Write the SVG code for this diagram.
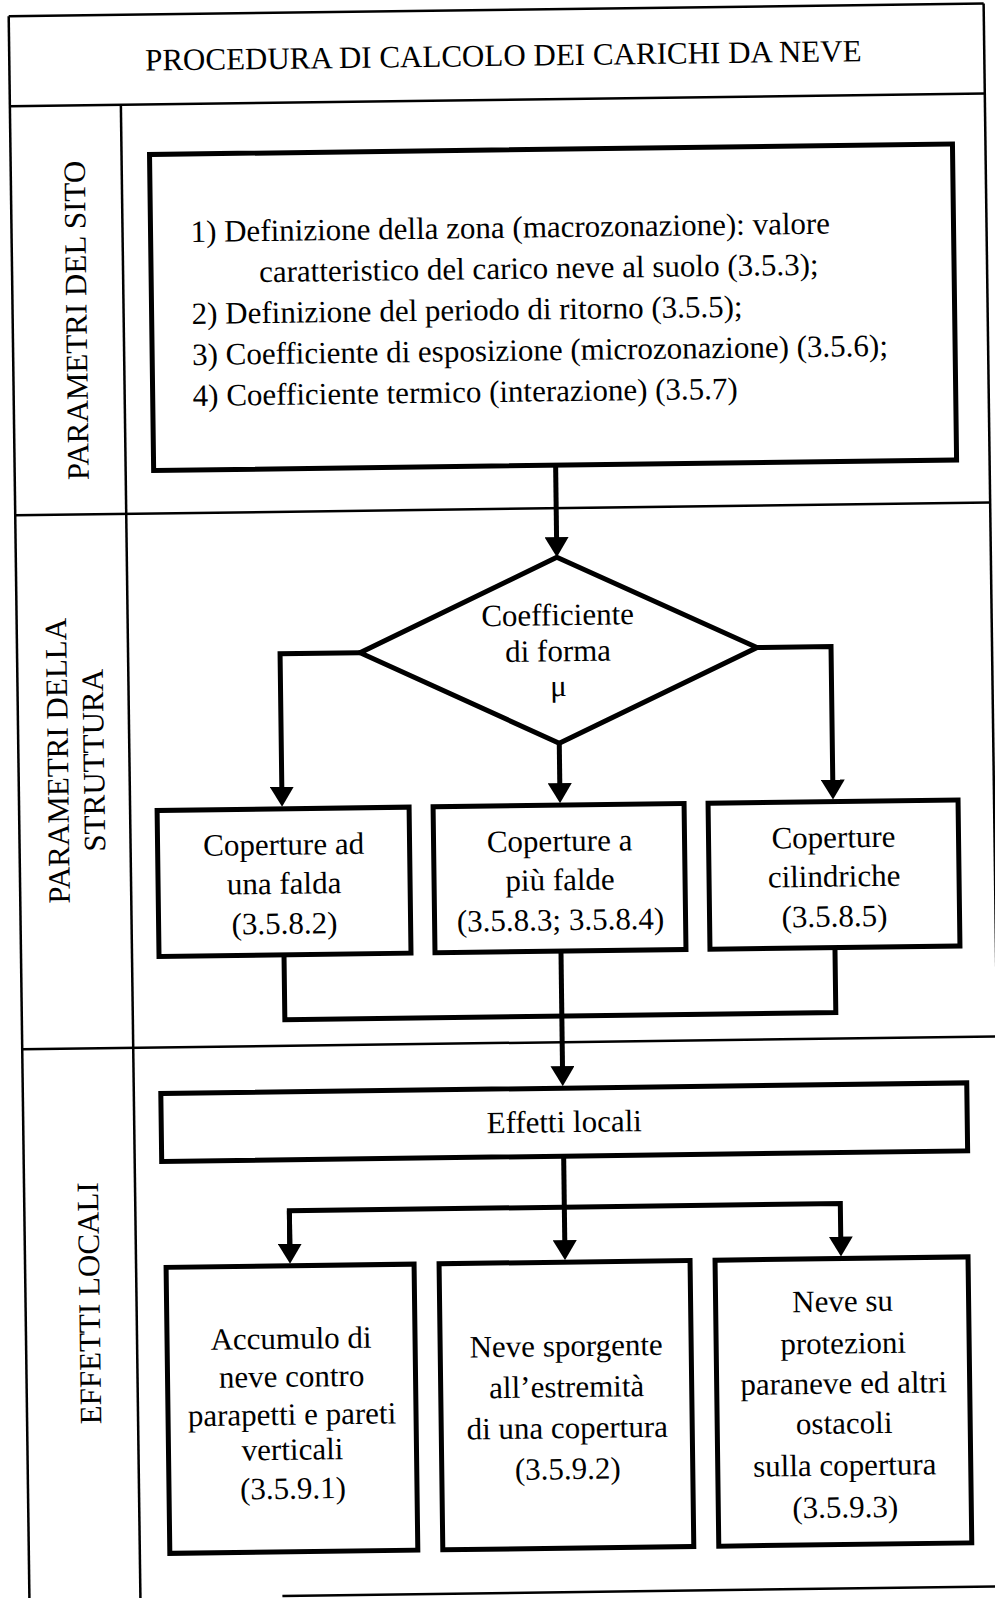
<svg xmlns="http://www.w3.org/2000/svg" width="995" height="1598" viewBox="0 0 995 1598">
<style>
  text { font-family: "Liberation Serif", "Times New Roman", serif; font-size: 31px; fill: #000; }
  .c { text-anchor: middle; }
  .frame line { stroke: #000; stroke-width: 2.5; }
  .box { fill: #fff; stroke: #000; stroke-width: 5; }
  .conn { fill: none; stroke: #000; stroke-width: 5; }
</style>
<defs>
  <marker id="ah" viewBox="0 0 20 24" markerWidth="20" markerHeight="24" refX="1" refY="12" orient="auto" markerUnits="userSpaceOnUse">
    <path d="M0,0 L20,12 L0,24 z" fill="#000"/>
  </marker>
</defs>
<rect width="995" height="1598" fill="#fff"/>
<g transform="rotate(-0.75 497 800)">
  <g id="frame" class="frame">
    <line x1="19" y1="10" x2="994" y2="10"/>
    <line x1="19" y1="10" x2="19" y2="1620"/>
    <line x1="994" y1="10" x2="994" y2="1620"/>
    <line x1="19" y1="100" x2="994" y2="100"/>
    <line x1="130" y1="100" x2="130" y2="1620"/>
    <line x1="19" y1="509" x2="994" y2="509"/>
    <line x1="19" y1="1043" x2="994" y2="1043"/>
    <line x1="272" y1="1593" x2="1010" y2="1593"/>
  </g>

  <g id="title">
    <text class="c" x="513" y="66">PROCEDURA DI CALCOLO DEI CARICHI DA NEVE</text>
  </g>

  <g id="label-sito">
    <text class="c" transform="translate(93 315) rotate(-90)">PARAMETRI DEL SITO</text>
  </g>
  <g id="label-struttura">
    <text class="c" transform="translate(68.5 755) rotate(-90)">PARAMETRI DELLA</text>
    <text class="c" transform="translate(104.5 755) rotate(-90)">STRUTTURA</text>
  </g>
  <g id="label-effetti">
    <text class="c" transform="translate(93 1298) rotate(-90)">EFFETTI LOCALI</text>
  </g>

  <g id="connectors">
    <path class="conn" d="M560,466 V539" marker-end="url(#ah)"/>
    <path class="conn" d="M362,651 H282 V785" marker-end="url(#ah)"/>
    <path class="conn" d="M759,651 H833 V785" marker-end="url(#ah)"/>
    <path class="conn" d="M560,744 V785" marker-end="url(#ah)"/>
    <path class="conn" d="M282,952 V1017 H833 V952"/>
    <path class="conn" d="M559,952 V1068" marker-end="url(#ah)"/>
    <path class="conn" d="M559,1157 V1208"/>
    <path class="conn" d="M284,1242 V1208 H835 V1242" marker-end="url(#ah)"/>
    <path class="conn" d="M284,1208 V1242" marker-end="url(#ah)"/>
    <path class="conn" d="M559,1208 V1242" marker-end="url(#ah)"/>
  </g>

  <g id="node-sito">
    <rect class="box" x="158" y="150" width="803" height="316"/>
    <text x="198" y="238">1) Definizione della zona (macrozonazione): valore</text>
    <text x="266" y="279">caratteristico del carico neve al suolo (3.5.3);</text>
    <text x="198" y="320">2) Definizione del periodo di ritorno (3.5.5);</text>
    <text x="198" y="361">3) Coefficiente di esposizione (microzonazione) (3.5.6);</text>
    <text x="198" y="402">4) Coefficiente termico (interazione) (3.5.7)</text>
  </g>

  <g id="node-forma">
    <polygon class="box" points="560,558 759,651 560,744 362,651"/>
    <text class="c" x="560" y="626">Coefficiente</text>
    <text class="c" x="560" y="662">di forma</text>
    <text class="c" x="560" y="697">μ</text>
  </g>

  <g id="node-una-falda">
    <rect class="box" x="157" y="806" width="252" height="146"/>
    <text class="c" x="283" y="852">Coperture ad</text>
    <text class="c" x="283" y="891">una falda</text>
    <text class="c" x="283" y="931">(3.5.8.2)</text>
  </g>
  <g id="node-piu-falde">
    <rect class="box" x="433" y="806" width="251" height="146"/>
    <text class="c" x="559" y="852">Coperture a</text>
    <text class="c" x="559" y="891">più falde</text>
    <text class="c" x="559" y="931">(3.5.8.3; 3.5.8.4)</text>
  </g>
  <g id="node-cilindriche">
    <rect class="box" x="708" y="806" width="250" height="146"/>
    <text class="c" x="833" y="852">Coperture</text>
    <text class="c" x="833" y="891">cilindriche</text>
    <text class="c" x="833" y="931">(3.5.8.5)</text>
  </g>

  <g id="node-effetti">
    <rect class="box" x="157" y="1089" width="806" height="68"/>
    <text class="c" x="560" y="1133">Effetti locali</text>
  </g>

  <g id="node-accumulo">
    <rect class="box" x="160" y="1263" width="248" height="286"/>
    <text class="c" x="284" y="1346">Accumulo di</text>
    <text class="c" x="284" y="1384">neve contro</text>
    <text class="c" x="284" y="1422">parapetti e pareti</text>
    <text class="c" x="284" y="1457">verticali</text>
    <text class="c" x="284" y="1496">(3.5.9.1)</text>
  </g>
  <g id="node-sporgente">
    <rect class="box" x="433" y="1263" width="251" height="286"/>
    <text class="c" x="559" y="1357">Neve sporgente</text>
    <text class="c" x="559" y="1398">all’estremità</text>
    <text class="c" x="559" y="1439">di una copertura</text>
    <text class="c" x="559" y="1480">(3.5.9.2)</text>
  </g>
  <g id="node-protezioni">
    <rect class="box" x="709" y="1263" width="253" height="286"/>
    <text class="c" x="836" y="1316">Neve su</text>
    <text class="c" x="836" y="1358">protezioni</text>
    <text class="c" x="836" y="1398">paraneve ed altri</text>
    <text class="c" x="836" y="1438">ostacoli</text>
    <text class="c" x="836" y="1480">sulla copertura</text>
    <text class="c" x="836" y="1522">(3.5.9.3)</text>
  </g>
</g>
</svg>
